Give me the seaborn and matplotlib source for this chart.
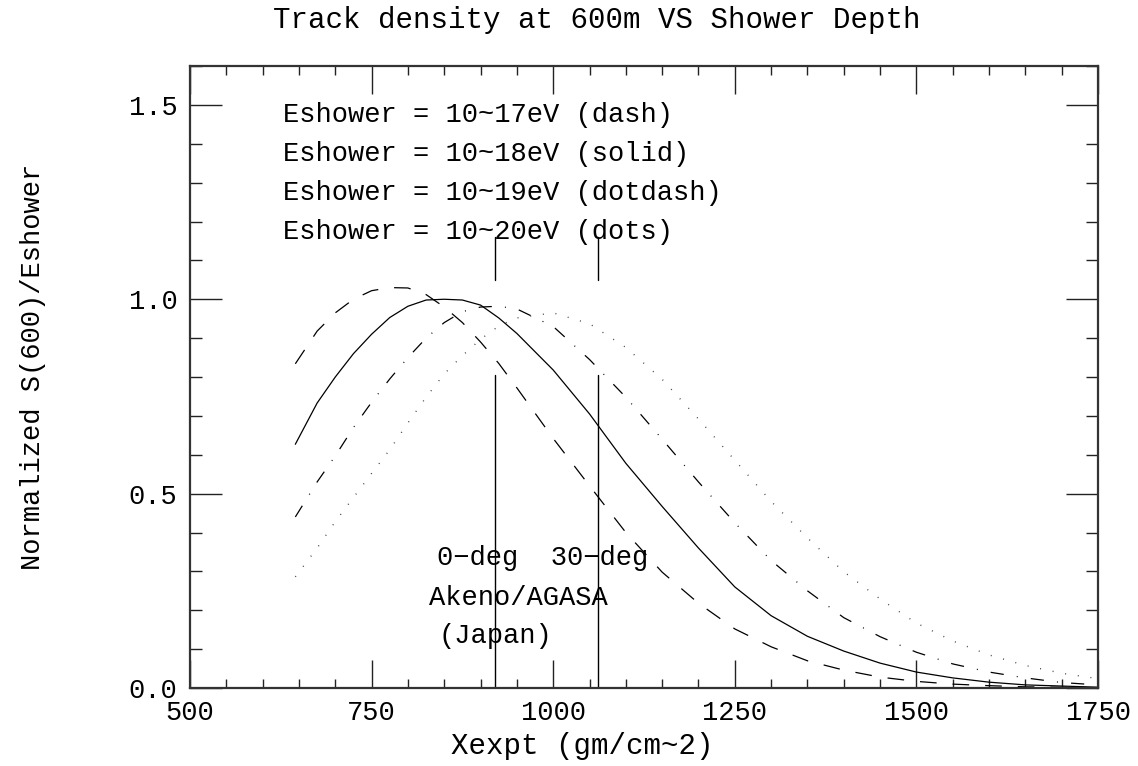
import matplotlib
matplotlib.use("Agg")
import matplotlib.pyplot as plt
import seaborn as sns
import pandas as pd
from matplotlib.ticker import MultipleLocator

# ---- data ----
xexpt = [645, 675, 700, 725, 750, 775, 800, 825, 850, 875, 900, 925, 950,
         1000, 1050, 1100, 1150, 1200, 1250, 1300, 1350, 1400, 1450, 1500,
         1550, 1600, 1650, 1700, 1750]
e17_dash = [0.834, 0.918, 0.965, 1.000, 1.022, 1.030, 1.029, 1.012, 0.980, 0.940,
            0.890, 0.835, 0.772, 0.642, 0.520, 0.400, 0.298, 0.218, 0.152, 0.106,
            0.070, 0.046, 0.028, 0.017, 0.010, 0.006, 0.003, 0.002, 0.001]
e18_solid = [0.627, 0.733, 0.800, 0.860, 0.910, 0.953, 0.982, 0.998, 1.000, 0.998,
             0.985, 0.952, 0.912, 0.818, 0.705, 0.578, 0.467, 0.360, 0.260, 0.186,
             0.133, 0.095, 0.064, 0.041, 0.026, 0.015, 0.008, 0.005, 0.002]
e19_dotdash = [0.440, 0.530, 0.597, 0.670, 0.735, 0.795, 0.850, 0.900, 0.940, 0.968,
               0.980, 0.982, 0.975, 0.930, 0.845, 0.748, 0.640, 0.530, 0.425, 0.328,
               0.250, 0.181, 0.132, 0.092, 0.062, 0.041, 0.026, 0.014, 0.008]
e20_dots = [0.286, 0.360, 0.428, 0.490, 0.552, 0.613, 0.682, 0.748, 0.808, 0.855,
            0.897, 0.931, 0.952, 0.965, 0.937, 0.876, 0.794, 0.692, 0.586, 0.480,
            0.386, 0.299, 0.229, 0.167, 0.121, 0.085, 0.058, 0.038, 0.024]

legend_lines = ["Eshower = 10~17eV (dash)", "Eshower = 10~18eV (solid)",
                "Eshower = 10~19eV (dotdash)", "Eshower = 10~20eV (dots)"]
angle_depths = [920, 1062]
x_ticks = [500, 750, 1000, 1250, 1500, 1750]
y_ticks = [0.0, 0.5, 1.0, 1.5]

sns.set_theme(style="white")
plt.rcParams["font.family"] = ["Liberation Mono", "DejaVu Sans Mono"]
plt.rcParams["lines.scale_dashes"] = False
for k in ["text.color", "axes.labelcolor", "xtick.color", "ytick.color"]:
    plt.rcParams[k] = "black"

FS = 19.5

fig = plt.figure(figsize=(11.38, 7.66), dpi=100)
ax = fig.add_axes([190 / 1138, 1 - 688 / 766, 908 / 1138, 622 / 766])

df = pd.DataFrame({"x": xexpt, "d17": e17_dash, "d18": e18_solid,
                   "d19": e19_dotdash, "d20": e20_dots})

sns.lineplot(data=df, x="x", y="d17", ax=ax, color="black", lw=0.9,
             linestyle=(0, (12, 11.5)))
sns.lineplot(data=df, x="x", y="d18", ax=ax, color="black", lw=0.9,
             linestyle="-")
sns.lineplot(data=df, x="x", y="d19", ax=ax, color="black", lw=0.9,
             linestyle=(0, (9.5, 9.5, 0.7, 9.5)))
sns.lineplot(data=df, x="x", y="d20", ax=ax, color="#444444", lw=1.0,
             linestyle=(0, (0.7, 8.5)))

# angle marker lines
for xd in angle_depths:
    ax.plot([xd, xd], [0.0, 0.804], color="black", lw=1.0)
    ax.plot([xd, xd], [1.05, 1.16], color="black", lw=1.0)

ax.set_xlim(500, 1750)
ax.set_ylim(0, 1.6)
ax.set_xticks(x_ticks)
ax.set_yticks(y_ticks)
ax.set_xticklabels([str(v) for v in x_ticks])
ax.set_yticklabels([f"{v:.1f}" for v in y_ticks])
ax.xaxis.set_minor_locator(MultipleLocator(50))
ax.yaxis.set_minor_locator(MultipleLocator(0.1))
ax.tick_params(which="both", direction="in", top=True, right=True,
               bottom=True, left=True, color="#222222", width=1.0,
               labelsize=FS)
ax.tick_params(axis="x", which="major", length=20, pad=9)
ax.tick_params(axis="y", which="major", length=23, pad=9)
ax.tick_params(axis="x", which="minor", length=6.5)
ax.tick_params(axis="y", which="minor", length=8.5)
ax.set_xlabel("")
ax.set_ylabel("")
for sp in ax.spines.values():
    sp.set_color("#333333")
    sp.set_linewidth(1.6)

# legend-like text block
for i, t in enumerate(legend_lines):
    ax.text(628, 1.474 - i * 0.1005, t, fontsize=FS, va="center", ha="left")

ax.text(986, 0.335, "0\u2212deg  30\u2212deg", fontsize=FS, ha="center", va="center")
ax.text(952, 0.232, "Akeno/AGASA", fontsize=FS, ha="center", va="center")
ax.text(921, 0.134, "(Japan)", fontsize=FS, ha="center", va="center")

fig.text(597 / 1138, 1 - 20 / 766, "Track density at 600m VS Shower Depth",
         fontsize=21, ha="center", va="center")
fig.text(582 / 1138, 1 - 746 / 766, "Xexpt (gm/cm~2)", fontsize=21,
         ha="center", va="center")
fig.text(33 / 1138, 1 - 367 / 766, "Normalized S(600)/Eshower", fontsize=FS,
         ha="center", va="center", rotation=90)

fig.savefig("out.png", dpi=100, facecolor="white")
